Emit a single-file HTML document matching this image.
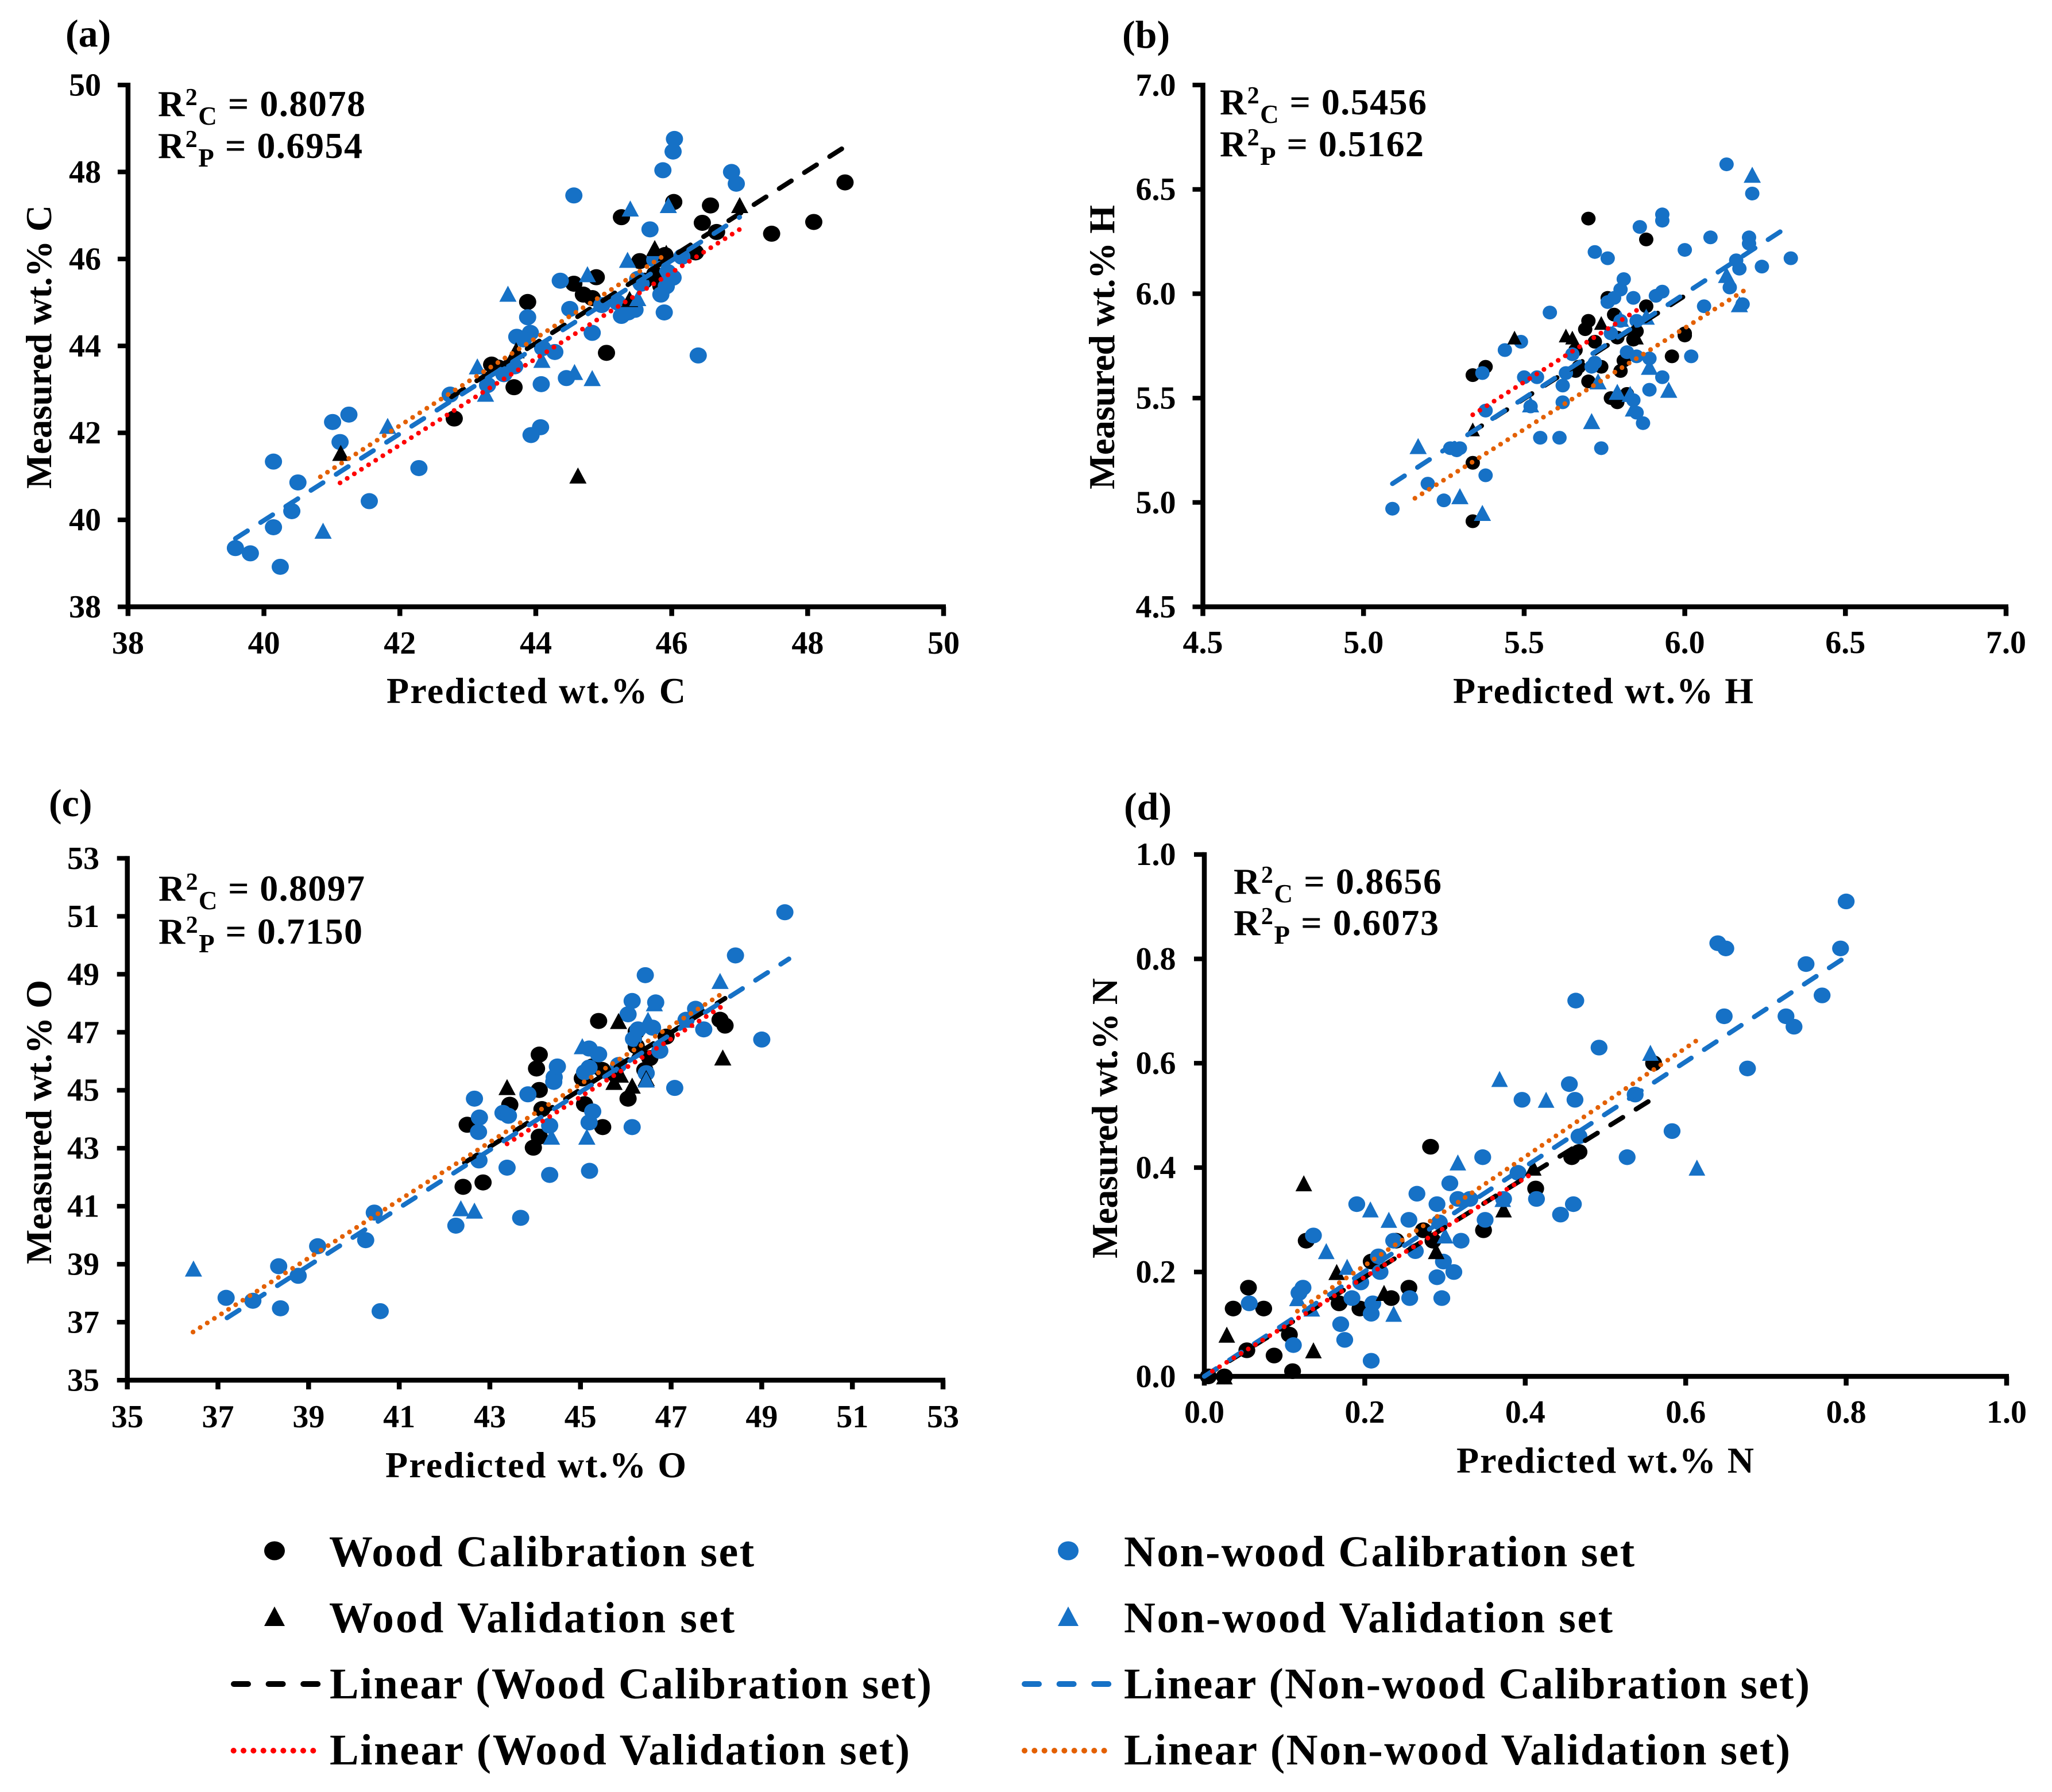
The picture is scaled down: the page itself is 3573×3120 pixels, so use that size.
<!DOCTYPE html>
<html lang="en">
<head>
<meta charset="utf-8">
<title>Predicted versus measured elemental composition</title>
<style>
html,body{margin:0;padding:0;background:#fff;}
svg{display:block;}
text{font-family:"Liberation Serif",serif;font-weight:bold;fill:#000;}
.tl{font-size:56px;}
.at{font-size:64px;}
.r2{font-size:64px;}
.pl{font-size:68px;}
.lg{font-size:76px;}
</style>
</head>
<body>
<svg id="chart" xmlns="http://www.w3.org/2000/svg" width="3573" height="3120" viewBox="0 0 3573 3120">
<rect width="3573" height="3120" fill="#fff"/>

<g id="panel-a">
<text class="pl" x="114" y="81">(a)</text>
<text class="at" x="673" y="1224" textLength="521">Predicted wt.% C</text>
<text class="at" transform="translate(89,851) rotate(-90)" textLength="494">Measured wt.% C</text>
<text class="r2" x="275" y="202" textLength="361">R<tspan font-size="42" dy="-19">2</tspan><tspan font-size="45" dy="34">C</tspan><tspan dy="-15"> = 0.8078</tspan></text>
<text class="r2" x="275" y="275" textLength="356">R<tspan font-size="42" dy="-19">2</tspan><tspan font-size="45" dy="34">P</tspan><tspan dy="-15"> = 0.6954</tspan></text>
</g>

<g id="panel-b">
<text class="pl" x="1954" y="83">(b)</text>
<text class="at" x="2530" y="1224" textLength="523">Predicted wt.% H</text>
<text class="at" transform="translate(1940,852) rotate(-90)" textLength="495">Measured wt.% H</text>
<text class="r2" x="2124" y="199" textLength="360">R<tspan font-size="42" dy="-19">2</tspan><tspan font-size="45" dy="34">C</tspan><tspan dy="-15"> = 0.5456</tspan></text>
<text class="r2" x="2124" y="272" textLength="355">R<tspan font-size="42" dy="-19">2</tspan><tspan font-size="45" dy="34">P</tspan><tspan dy="-15"> = 0.5162</tspan></text>
</g>

<g id="panel-c">
<text class="pl" x="85" y="1421">(c)</text>
<text class="at" x="671" y="2572" textLength="524">Predicted wt.% O</text>
<text class="at" transform="translate(89,2201) rotate(-90)" textLength="495">Measured wt.% O</text>
<text class="r2" x="276" y="1568" textLength="359">R<tspan font-size="42" dy="-19">2</tspan><tspan font-size="45" dy="34">C</tspan><tspan dy="-15"> = 0.8097</tspan></text>
<text class="r2" x="276" y="1643" textLength="355">R<tspan font-size="42" dy="-19">2</tspan><tspan font-size="45" dy="34">P</tspan><tspan dy="-15"> = 0.7150</tspan></text>
</g>

<g id="panel-d">
<text class="pl" x="1957" y="1427">(d)</text>
<text class="at" x="2536" y="2564" textLength="518">Predicted wt.% N</text>
<text class="at" transform="translate(1945,2191) rotate(-90)" textLength="488">Measured wt.% N</text>
<text class="r2" x="2148" y="1556" textLength="362">R<tspan font-size="42" dy="-19">2</tspan><tspan font-size="45" dy="34">C</tspan><tspan dy="-15"> = 0.8656</tspan></text>
<text class="r2" x="2148" y="1628" textLength="357">R<tspan font-size="42" dy="-19">2</tspan><tspan font-size="45" dy="34">P</tspan><tspan dy="-15"> = 0.6073</tspan></text>
</g>

<g id="legend">
<g>
<ellipse cx="478" cy="2700" rx="18" ry="16.5" fill="#000"/>
<text class="lg" x="573" y="2727" textLength="740">Wood Calibration set</text>
</g>
<g>
<polygon points="478,2797 496,2831 460,2831" fill="#000"/>
<text class="lg" x="573" y="2842" textLength="706">Wood Validation set</text>
</g>
<g>
<line x1="407" y1="2932" x2="554" y2="2932" stroke="#000" stroke-width="10" stroke-linecap="round" stroke-dasharray="25 35.6"/>
<text class="lg" x="574" y="2957" textLength="1048">Linear (Wood Calibration set)</text>
</g>
<g>
<line x1="406.7" y1="3048" x2="546" y2="3048" stroke="#f00" stroke-width="10" stroke-linecap="round" stroke-dasharray="0 17.33"/>
<text class="lg" x="574" y="3072" textLength="1010">Linear (Wood Validation set)</text>
</g>
<g>
<ellipse cx="1860" cy="2700" rx="18" ry="16.5" fill="#1671c6"/>
<text class="lg" x="1957" y="2727" textLength="889">Non-wood Calibration set</text>
</g>
<g>
<polygon points="1860,2797 1878,2831 1842,2831" fill="#1671c6"/>
<text class="lg" x="1957" y="2842" textLength="851">Non-wood Validation set</text>
</g>
<g>
<line x1="1784" y1="2932" x2="1937" y2="2932" stroke="#1671c6" stroke-width="10" stroke-linecap="round" stroke-dasharray="25 35.6"/>
<text class="lg" x="1957" y="2957" textLength="1194">Linear (Non-wood Calibration set)</text>
</g>
<g>
<line x1="1784" y1="3048" x2="1928" y2="3048" stroke="#e36003" stroke-width="10" stroke-linecap="round" stroke-dasharray="0 17.33"/>
<text class="lg" x="1957" y="3072" textLength="1160">Linear (Non-wood Validation set)</text>
</g>
</g>
</svg>

<script>
// ---------- Panel (a) carbon ----------
const aTickLabels = ['38','40','42','44','46','48','50'];
const aWoodCal = [[42.8,42.33],[43.35,43.57],[43.45,43.5],[43.68,43.05],[43.88,45.01],[44.56,45.43],[44.7,45.18],[44.83,45.1],[44.89,45.58],[45.04,43.84],[45.26,46.96],[45.53,45.95],[45.6,45.5],[45.75,45.65],[45.84,45.38],[45.9,46.09],[46.03,47.31],[46.35,46.15],[46.45,46.83],[46.57,47.23],[46.66,46.62],[47.47,46.58],[48.09,46.85],[48.55,47.76]];
const aWoodVal = [[41.13,41.54],[43.71,43.9],[44.62,41.02],[45.38,45.08],[45.75,46.25],[45.92,46.14],[47.0,47.24],[45.75,45.7]];
const aNonCal = [[39.58,39.35],[39.8,39.23],[40.24,38.92],[40.14,39.83],[40.41,40.2],[40.5,40.86],[40.14,41.34],[41.01,42.25],[41.12,41.79],[41.25,42.42],[41.55,40.43],[42.28,41.19],[42.74,42.88],[43.29,43.1],[43.53,43.35],[43.69,43.53],[43.72,44.21],[43.88,44.66],[43.92,44.3],[43.82,44.15],[43.93,41.95],[44.07,42.13],[44.08,43.12],[44.1,43.95],[44.28,43.86],[44.36,45.5],[44.45,43.26],[44.5,44.85],[44.56,47.46],[44.83,44.3],[44.97,44.94],[45.2,45.0],[45.26,44.69],[45.36,44.77],[45.46,44.83],[45.5,45.54],[45.55,45.43],[45.68,46.68],[45.84,45.18],[45.89,44.77],[45.87,48.04],[46.02,48.47],[46.04,48.76],[46.02,45.57],[45.92,45.37],[46.15,46.05],[46.39,43.78],[46.88,48.0],[46.95,47.73],[45.94,45.7],[45.75,45.98]];
const aNonVal = [[40.87,39.75],[41.82,42.16],[43.14,43.53],[43.26,42.9],[43.59,45.2],[44.09,43.68],[44.57,43.4],[44.83,43.26],[44.76,45.65],[45.35,45.98],[45.39,47.16],[45.95,47.24],[45.5,45.1],[45.15,45.1]];
const aFitWoodCal = [[42.76,42.83],[48.57,48.6]];
const aFitNonCal = [[39.58,39.57],[47.0,46.96]];
const aFitWoodVal = [[41.12,40.85],[47.03,46.71]];
const aFitNonVal = [[40.83,40.99],[45.9,46.09]];

// ---------- Panel (b) hydrogen ----------
const bTickLabels = ['4.5','5.0','5.5','6.0','6.5','7.0'];
const bWoodCal = [[5.34,4.91],[5.34,5.19],[5.34,5.61],[5.38,5.65],[5.66,5.73],[5.66,5.63],[5.67,5.65],[5.70,5.87],[5.69,5.83],[5.70,6.36],[5.70,5.58],[5.72,5.77],[5.74,5.65],[5.76,5.98],[5.77,5.50],[5.78,5.90],[5.79,5.48],[5.79,5.79],[5.80,5.63],[5.81,5.68],[5.82,5.52],[5.85,5.82],[5.84,5.78],[5.88,5.94],[5.88,6.26],[5.96,5.70],[6.0,5.81],[6.0,5.80]];
const bWoodVal = [[5.34,5.35],[5.47,5.79],[5.63,5.80],[5.65,5.79],[5.74,5.86],[5.85,5.79],[5.84,5.82]];
const bNonCal = [[5.09,4.97],[5.20,5.09],[5.25,5.01],[5.27,5.26],[5.29,5.25],[5.30,5.26],[5.38,5.13],[5.37,5.62],[5.38,5.44],[5.44,5.73],[5.49,5.77],[5.50,5.60],[5.52,5.46],[5.54,5.60],[5.55,5.31],[5.58,5.91],[5.61,5.31],[5.62,5.56],[5.62,5.48],[5.63,5.62],[5.65,5.71],[5.72,5.67],[5.71,5.65],[5.72,6.20],[5.76,6.17],[5.74,5.26],[5.76,5.96],[5.77,5.81],[5.78,5.98],[5.80,6.02],[5.80,5.87],[5.81,6.07],[5.82,5.72],[5.84,5.49],[5.85,5.43],[5.84,5.98],[5.85,5.70],[5.85,5.87],[5.86,6.32],[5.87,5.38],[5.89,5.54],[5.89,5.69],[5.91,5.99],[5.93,6.01],[5.93,6.38],[5.93,6.35],[5.93,5.60],[6.0,6.21],[6.02,5.70],[6.06,5.94],[6.08,6.27],[6.14,6.03],[6.13,6.62],[6.16,6.16],[6.17,6.12],[6.18,5.95],[6.20,6.27],[6.20,6.24],[6.21,6.48],[6.24,6.13],[6.33,6.17]];
const bNonVal = [[5.17,5.27],[5.30,5.03],[5.37,4.95],[5.52,5.47],[5.71,5.39],[5.73,5.58],[5.79,5.53],[5.83,5.52],[5.84,5.45],[5.89,5.65],[5.95,5.54],[5.88,5.89],[6.13,6.09],[6.17,5.95],[6.21,6.57],[5.80,5.88]];
const bFitWoodCal = [[5.33,5.33],[6.0,5.99]];
const bFitNonCal = [[5.09,5.09],[6.30,6.30]];
const bFitWoodVal = [[5.34,5.42],[5.86,5.93]];
const bFitNonVal = [[5.16,5.02],[6.20,6.03]];

// ---------- Panel (c) oxygen ----------
const cTickLabels = ['35','37','39','41','43','45','47','49','51','53'];
const cWoodCal = [[42.41,41.67],[42.85,41.82],[42.5,43.81],[43.44,44.5],[43.96,43.02],[44.03,45.75],[44.09,46.23],[44.09,45.01],[44.15,44.35],[44.09,43.4],[45.04,45.41],[45.09,44.52],[45.26,45.82],[45.4,47.39],[45.49,43.73],[45.48,45.7],[45.77,45.54],[46.05,44.71],[46.23,47.02],[46.42,45.7],[46.53,46.11],[46.23,46.52],[46.89,46.85],[48.08,47.43],[48.19,47.23]];
const cWoodVal = [[43.38,45.11],[45.84,47.39],[45.74,45.29],[45.88,45.54],[46.14,45.16],[46.45,45.42],[48.14,46.13],[46.3,46.4]];
const cNonCal = [[37.18,37.84],[37.77,37.74],[38.34,38.93],[38.38,37.48],[38.77,38.6],[39.2,39.62],[40.26,39.83],[40.45,40.78],[40.58,37.38],[42.25,40.33],[42.66,44.71],[42.77,44.06],[42.75,43.56],[42.76,42.58],[43.29,44.22],[43.41,44.12],[43.38,42.33],[43.68,40.6],[43.84,44.86],[44.32,43.78],[44.32,42.08],[44.41,45.29],[44.42,45.45],[44.49,45.82],[45.09,45.62],[45.19,45.78],[45.2,42.22],[45.19,43.89],[45.27,44.27],[45.19,46.44],[45.4,46.24],[45.84,45.87],[46.05,47.62],[46.14,48.08],[46.14,43.73],[46.17,46.77],[46.27,47.1],[46.45,45.59],[46.43,48.97],[46.59,47.16],[46.66,48.03],[46.75,46.36],[47.08,45.08],[47.33,47.43],[47.54,47.81],[47.72,47.1],[48.42,49.65],[49.0,46.75],[49.51,51.14]];
const cNonVal = [[36.46,38.85],[42.36,40.93],[42.66,40.85],[44.36,43.4],[45.14,43.4],[45.04,46.52],[46.45,45.37],[46.49,47.43],[46.63,48.0],[48.08,48.77],[47.33,47.43]];
const cFitWoodCal = [[42.44,42.5],[48.19,48.17]];
const cFitNonCal = [[37.2,37.15],[49.6,49.53]];
const cFitWoodVal = [[43.38,43.15],[48.15,47.92]];
const cFitNonVal = [[36.45,36.66],[48.15,48.36]];

// ---------- Panel (d) nitrogen ----------
const dTickLabels = ['0.0','0.2','0.4','0.6','0.8','1.0'];
const dWoodCal = [[0.005,0],[0.025,0],[0.036,0.13],[0.055,0.17],[0.053,0.05],[0.074,0.13],[0.087,0.04],[0.106,0.08],[0.11,0.01],[0.127,0.26],[0.168,0.14],[0.194,0.13],[0.208,0.22],[0.233,0.15],[0.255,0.17],[0.273,0.28],[0.282,0.44],[0.285,0.26],[0.348,0.28],[0.413,0.36],[0.458,0.42],[0.467,0.43],[0.56,0.60],[0.239,0.26]];
const dWoodVal = [[0.028,0.08],[0.025,0],[0.124,0.37],[0.136,0.05],[0.165,0.2],[0.224,0.16],[0.289,0.24],[0.373,0.32],[0.41,0.4]];
const dNonCal = [[0.056,0.14],[0.111,0.06],[0.118,0.16],[0.123,0.17],[0.136,0.27],[0.17,0.1],[0.175,0.07],[0.184,0.15],[0.19,0.33],[0.195,0.18],[0.208,0.03],[0.208,0.12],[0.21,0.14],[0.217,0.23],[0.219,0.2],[0.236,0.26],[0.255,0.3],[0.256,0.15],[0.265,0.35],[0.263,0.24],[0.29,0.33],[0.29,0.19],[0.296,0.15],[0.298,0.22],[0.293,0.295],[0.306,0.37],[0.311,0.2],[0.316,0.34],[0.32,0.26],[0.331,0.34],[0.347,0.42],[0.35,0.3],[0.373,0.34],[0.391,0.39],[0.396,0.53],[0.414,0.34],[0.444,0.31],[0.455,0.56],[0.46,0.33],[0.462,0.53],[0.463,0.72],[0.467,0.46],[0.492,0.63],[0.527,0.42],[0.537,0.54],[0.583,0.47],[0.64,0.83],[0.65,0.82],[0.648,0.69],[0.677,0.59],[0.725,0.69],[0.735,0.67],[0.75,0.79],[0.77,0.73],[0.793,0.82],[0.80,0.91]];
const dNonVal = [[0.116,0.15],[0.134,0.13],[0.152,0.24],[0.178,0.21],[0.207,0.32],[0.23,0.3],[0.236,0.12],[0.30,0.27],[0.316,0.41],[0.372,0.34],[0.368,0.57],[0.426,0.53],[0.556,0.62],[0.614,0.40]];
const dFitWoodCal = [[0,0],[0.557,0.53]];
const dFitNonCal = [[0,0],[0.802,0.806]];
const dFitWoodVal = [[0.01,0.01],[0.406,0.386]];
const dFitNonVal = [[0.116,0.125],[0.617,0.647]];

const NS = 'http://www.w3.org/2000/svg';
const BLACK = '#000000', BLUE = '#1671c6', RED = '#ff0000', ORANGE = '#e36003';

function make(parent, tag, attrs, text) {
  const el = document.createElementNS(NS, tag);
  for (const k in attrs) el.setAttribute(k, attrs[k]);
  if (text !== undefined) el.textContent = text;
  parent.appendChild(el);
  return el;
}

function drawPanel(id, cfg) {
  const root = document.getElementById(id);
  const lo = parseFloat(cfg.ticks[0]);
  const hi = parseFloat(cfg.ticks[cfg.ticks.length - 1]);
  const xScale = v => cfg.left + (v - lo) / (hi - lo) * (cfg.right - cfg.left);
  const yScale = v => cfg.bottom - (v - lo) / (hi - lo) * (cfg.bottom - cfg.top);

  const axes = make(root, 'g', {});
  
  

  const xAxis = make(axes, 'line', {x1: cfg.left - 4, x2: cfg.right + 4, y1: cfg.bottom, y2: cfg.bottom, stroke: '#000', 'stroke-width': 8.5});
  
  
  const yAxis = make(axes, 'line', {x1: cfg.left, x2: cfg.left, y1: cfg.top - 4, y2: cfg.bottom + 4, stroke: '#000', 'stroke-width': 8.5});
  
  

  cfg.ticks.forEach(label => {
    const v = parseFloat(label);
    const tx = make(axes, 'line', {x1: xScale(v), x2: xScale(v), y1: cfg.bottom, y2: cfg.bottom + 16, stroke: '#000', 'stroke-width': 8.5});
    
    
    const ty = make(axes, 'line', {x1: cfg.left - 18, x2: cfg.left, y1: yScale(v), y2: yScale(v), stroke: '#000', 'stroke-width': 8});
    
    
    const lx = make(axes, 'text', {class: 'tl', x: xScale(v), y: cfg.xLabelY, 'text-anchor': 'middle'}, label);
    
    
    const ly = make(axes, 'text', {class: 'tl', x: cfg.yLabelX, y: yScale(v) + 18.5, 'text-anchor': 'end'}, label);
    
    
  });

  function circles(points, color, name) {
    const g = make(root, 'g', {fill: color});
    
    
    points.forEach(p => {
      const c = make(g, 'ellipse', {cx: xScale(p[0]), cy: yScale(p[1]), rx: cfg.rx, ry: cfg.ry});
      
      
    });
  }
  function triangles(points, color, name, size) {
    const g = make(root, 'g', {fill: color});
    
    
    points.forEach(p => {
      const x = xScale(p[0]), y = yScale(p[1]), w = size[0] / 2, h = size[1] / 2;
      const t = make(g, 'polygon', {points: `${x},${y - h} ${x + w},${y + h} ${x - w},${y + h}`});
      
      
    });
  }
  function fit(points, color, dash, name) {
    const l = make(root, 'line', {x1: xScale(points[0][0]), y1: yScale(points[0][1]), x2: xScale(points[1][0]), y2: yScale(points[1][1]), stroke: color, 'stroke-width': 8.3, 'stroke-linecap': 'round', 'stroke-dasharray': dash});
    
    
  }

  circles(cfg.woodCal, BLACK, 'wood-calibration-points');
  circles(cfg.nonCal, BLUE, 'non-wood-calibration-points');
  triangles(cfg.woodVal, BLACK, 'wood-validation-points', cfg.woodTri);
  triangles(cfg.nonVal, BLUE, 'non-wood-validation-points', cfg.nonTri);
  fit(cfg.fitWoodCal, BLACK, '25 27', 'trend-wood-calibration');
  fit(cfg.fitNonCal, BLUE, '25 27', 'trend-non-wood-calibration');
  fit(cfg.fitWoodVal, RED, '0 14.7', 'trend-wood-validation');
  fit(cfg.fitNonVal, ORANGE, '0 14.7', 'trend-non-wood-validation');
}

drawPanel('panel-a', {left: 222.9, right: 1643, top: 148, bottom: 1056.5, xLabelY: 1138, yLabelX: 176, rx: 15, ry: 14, woodTri: [30, 28], nonTri: [30, 28],
  ticks: aTickLabels, woodCal: aWoodCal, woodVal: aWoodVal, nonCal: aNonCal, nonVal: aNonVal,
  fitWoodCal: aFitWoodCal, fitNonCal: aFitNonCal, fitWoodVal: aFitWoodVal, fitNonVal: aFitNonVal});
drawPanel('panel-b', {left: 2094.5, right: 3493, top: 148, bottom: 1056.5, xLabelY: 1137, yLabelX: 2047.5, rx: 12.5, ry: 12, woodTri: [25, 24], nonTri: [30, 28],
  ticks: bTickLabels, woodCal: bWoodCal, woodVal: bWoodVal, nonCal: bNonCal, nonVal: bNonVal,
  fitWoodCal: bFitWoodCal, fitNonCal: bFitNonCal, fitWoodVal: bFitWoodVal, fitNonVal: bFitNonVal});
drawPanel('panel-c', {left: 221.7, right: 1642, top: 1494.4, bottom: 2403, xLabelY: 2485, yLabelX: 173, rx: 15, ry: 14, woodTri: [30, 28], nonTri: [30, 28],
  ticks: cTickLabels, woodCal: cWoodCal, woodVal: cWoodVal, nonCal: cNonCal, nonVal: cNonVal,
  fitWoodCal: cFitWoodCal, fitNonCal: cFitNonCal, fitWoodVal: cFitWoodVal, fitNonVal: cFitNonVal});
drawPanel('panel-d', {left: 2097, right: 3494, top: 1487.7, bottom: 2396.4, xLabelY: 2477, yLabelX: 2047.5, rx: 14.7, ry: 13.7, woodTri: [29, 28], nonTri: [29, 28],
  ticks: dTickLabels, woodCal: dWoodCal, woodVal: dWoodVal, nonCal: dNonCal, nonVal: dNonVal,
  fitWoodCal: dFitWoodCal, fitNonCal: dFitNonCal, fitWoodVal: dFitWoodVal, fitNonVal: dFitNonVal});
</script>
</body>
</html>
